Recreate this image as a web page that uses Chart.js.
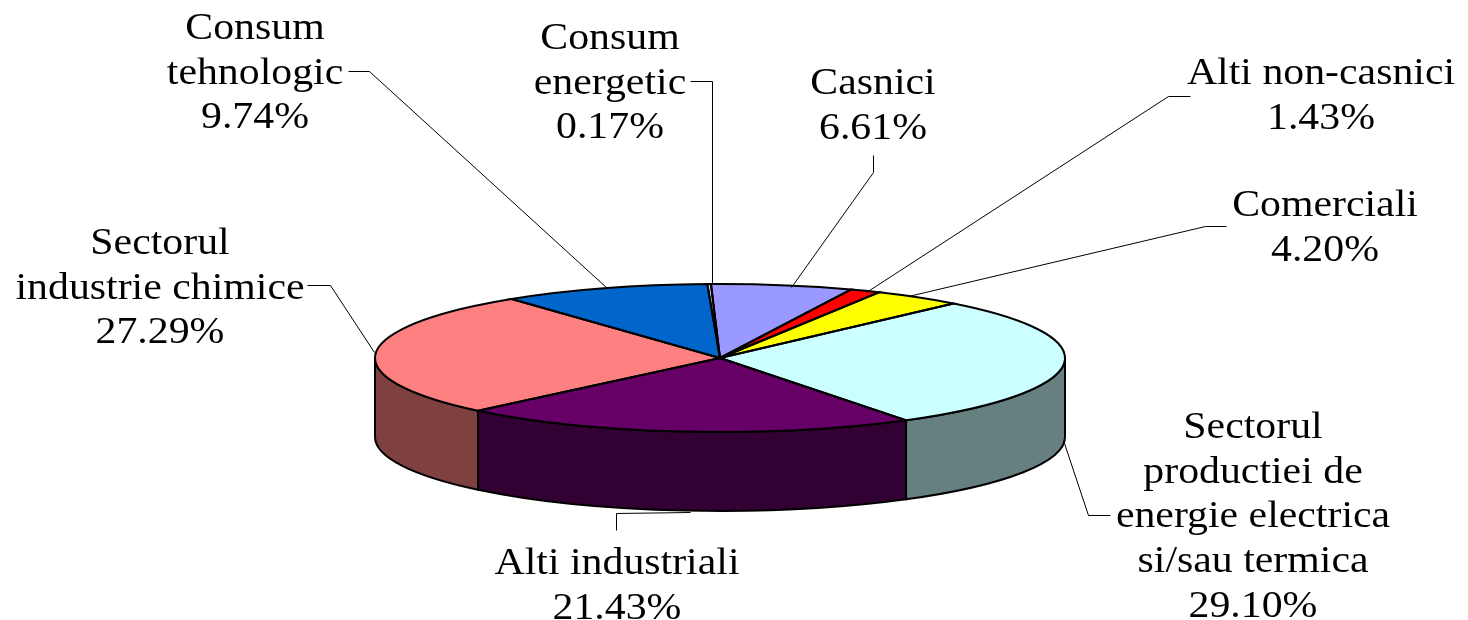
<!DOCTYPE html>
<html>
<head>
<meta charset="utf-8">
<title>Consum</title>
<script src="https://cdn.jsdelivr.net/npm/chart.js"></script>
<style>
    html, body { margin: 0; padding: 0; background: #fff; overflow: hidden; }
    canvas { display: block; }
</style>
</head>
<body>
<canvas id="pie3d" width="1468" height="620"></canvas>
<script>
var categories = ['Casnici', 'Alti non-casnici', 'Comerciali', 'Sectorul productiei de energie electrica si/sau termica', 'Alti industriali', 'Sectorul industrie chimice', 'Consum tehnologic', 'Consum energetic'];
var percents = [6.61, 1.43, 4.20, 29.10, 21.43, 27.29, 9.74, 0.17];
var sliceColors = ['#9999FF', '#FF0000', '#FFFF00', '#CCFFFF', '#660066', '#FF8080', '#0066CC', '#CCCCFF'];

// how each category label wraps on the picture
var labelLines = [
    ['Casnici'],
    ['Alti non-casnici'],
    ['Comerciali'],
    ['Sectorul', 'productiei de', 'energie electrica', 'si/sau termica'],
    ['Alti industriali'],
    ['Sectorul', 'industrie chimice'],
    ['Consum', 'tehnologic'],
    ['Consum', 'energetic']
];
// label centre x, first baseline y
var labelX = [873, 1321, 1325, 1253, 617, 160, 255, 610];
var labelY = [94, 84, 216, 438, 574, 254, 39, 49];
// leader lines, [x, y] points
var leaders = [
    [[873, 155], [873, 172], [791, 287]],
    [[1190, 96], [1168, 96], [866, 292]],
    [[1226, 226], [1205, 226], [908, 296]],
    [[1110, 515], [1088, 515], [1063, 440]],
    [[616, 530], [616, 513], [690, 512]],
    [[307, 285], [330, 285], [374, 352]],
    [[348, 71], [369, 71], [607, 288]],
    [[690, 81], [712, 81], [712, 284]]
];

var pieX = 720, pieY = 358, pieRx = 345, pieRy = 74, pieDepth = 79;
var lineGap = 44.7, textStretch = 1.1;

function darker(hex) {
    var n = parseInt(hex.slice(1), 16);
    var r = (n >> 16) >> 1, g = ((n >> 8) & 255) >> 1, b = (n & 255) >> 1;
    return 'rgb(' + r + ',' + g + ',' + b + ')';
}

var pie3d = {
    id: 'pie3d',
    beforeDatasetsDraw: function (chart) {
        var ctx = chart.ctx, arcs = chart.getDatasetMeta(0).data;
        // the front wall, only where the rim faces the viewer
        arcs.forEach(function (arc, i) {
            var a = Math.max(arc.startAngle, 0), b = Math.min(arc.endAngle, Math.PI);
            if (b <= a) return;
            ctx.beginPath();
            ctx.ellipse(pieX, pieY, pieRx, pieRy, 0, a, b);
            ctx.ellipse(pieX, pieY + pieDepth, pieRx, pieRy, 0, b, a, true);
            ctx.closePath();
            ctx.fillStyle = darker(sliceColors[i]);
            ctx.fill();
            ctx.lineWidth = 2;
            ctx.strokeStyle = '#000';
            ctx.stroke();
        });
        // squash the round pie of the library into the tilted top
        var first = arcs[0], k = first.outerRadius;
        ctx.save();
        ctx.translate(pieX, pieY);
        ctx.scale(pieRx / k, pieRy / k);
        ctx.translate(-first.x, -first.y);
    },
    afterDatasetsDraw: function (chart) {
        var ctx = chart.ctx, arcs = chart.getDatasetMeta(0).data;
        ctx.restore();
        // outlines here so the squash does not thin them
        arcs.forEach(function (arc) {
            ctx.beginPath();
            ctx.moveTo(pieX, pieY);
            ctx.ellipse(pieX, pieY, pieRx, pieRy, 0, arc.startAngle, arc.endAngle);
            ctx.closePath();
            ctx.lineWidth = 2;
            ctx.strokeStyle = '#000';
            ctx.stroke();
        });
    },
    afterDraw: function (chart) {
        var ctx = chart.ctx;
        ctx.save();
        ctx.lineWidth = 1;
        ctx.strokeStyle = '#000';
        leaders.forEach(function (pts) {
            ctx.beginPath();
            pts.forEach(function (p, j) {
                if (j == 0) ctx.moveTo(p[0] + 0.5, p[1] + 0.5);
                else ctx.lineTo(p[0] + 0.5, p[1] + 0.5);
            });
            ctx.stroke();
        });
        ctx.fillStyle = '#000';
        ctx.font = '38px "Liberation Serif"';
        ctx.textAlign = 'center';
        ctx.textBaseline = 'alphabetic';
        categories.forEach(function (name, i) {
            var lines = labelLines[i].concat(percents[i].toFixed(2) + '%');
            lines.forEach(function (txt, j) {
                ctx.save();
                ctx.translate(labelX[i], labelY[i] + j * lineGap);
                ctx.scale(textStretch, 1);
                ctx.fillText(txt, 0, 0);
                ctx.restore();
            });
        });
        ctx.restore();
    }
};

var ctx = document.getElementById('pie3d').getContext('2d');
var myPie = new Chart(ctx, {
    type: 'pie',
    data: {
        labels: categories,
        datasets: [{
            data: percents,
            backgroundColor: sliceColors,
            borderWidth: 0,
            clip: false
        }]
    },
    options: {
        responsive: false,
        animation: false,
        rotation: -1.5,
        plugins: {
            legend: { display: false },
            tooltip: { enabled: false }
        }
    },
    plugins: [pie3d]
});
</script>
</body>
</html>
